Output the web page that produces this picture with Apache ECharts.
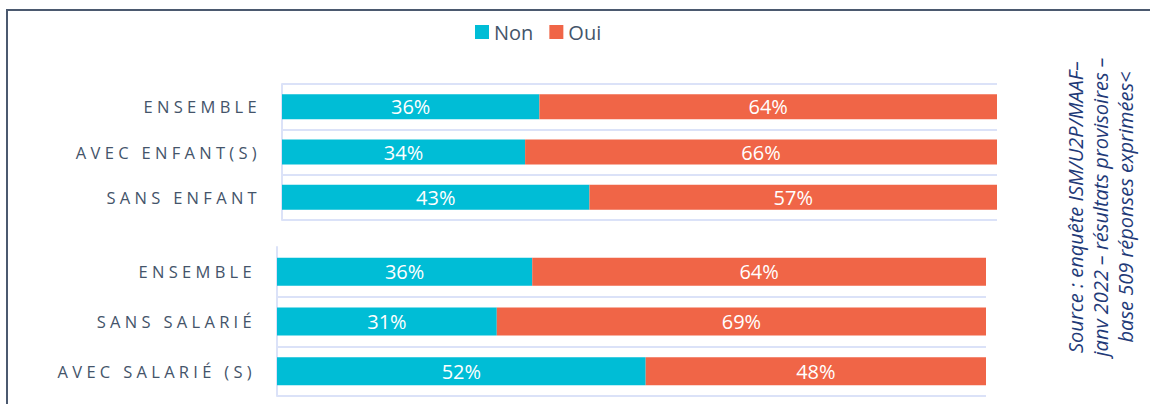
<!DOCTYPE html>
<html lang="fr">
<head>
<meta charset="utf-8">
<title>Non / Oui</title>
<script src="https://cdn.jsdelivr.net/npm/echarts@6/dist/echarts.min.js"></script>
<style>
  html, body { margin: 0; padding: 0; background: #ffffff; }
  #chart { width: 1150px; height: 404px; }
  /* spaced capitals for the category labels */
  #chart text[fill="#44546a"] { letter-spacing: 4.3px; }
</style>
</head>
<body>
<div id="chart"></div>
<script>
// Group 1: family situation
const categoriesFamille = ['ENSEMBLE', 'AVEC ENFANT(S)', 'SANS ENFANT'];
const nonFamille = [36, 34, 43];
const ouiFamille = [64, 66, 57];

// Group 2: employees
const categoriesSalarie = ['ENSEMBLE', 'SANS SALARIÉ', 'AVEC SALARIÉ (S)'];
const nonSalarie = [36, 31, 52];
const ouiSalarie = [64, 69, 48];

const seriesNames = ['Non', 'Oui'];
const sourceLines = [
  'Source : enquête ISM/U2P/MAAF–',
  'janv 2022 – résultats provisoires –',
  'base 509 réponses exprimées<'
];

const COLOR_NON = '#00bdd6';
const COLOR_OUI = '#f06547';
const GRID_LINE = '#dbe2f8';
const FONT = '"Open Sans", sans-serif';

const chart = echarts.init(document.getElementById('chart'), null, { renderer: 'svg' });

function categoryAxis(gridIndex, data, showTop) {
  return {
    type: 'category',
    gridIndex: gridIndex,
    data: data,
    inverse: true,
    axisTick: { show: false },
    axisLine: { show: true, lineStyle: { color: GRID_LINE, width: 2 } },
    splitLine: {
      show: true,
      showMinLine: showTop,
      lineStyle: { color: GRID_LINE, width: 2 }
    },
    axisLabel: {
      margin: 21,
      color: '#44546a',
      fontFamily: FONT,
      fontSize: 16.5
    }
  };
}

function valueAxis(gridIndex) {
  return {
    type: 'value',
    gridIndex: gridIndex,
    min: 0,
    max: 100,
    show: false,
    splitLine: { show: false }
  };
}

function barSeries(name, color, axisIndex, values, barWidth) {
  return {
    name: name,
    type: 'bar',
    stack: 'g' + axisIndex,
    xAxisIndex: axisIndex,
    yAxisIndex: axisIndex,
    data: values,
    barWidth: barWidth,
    itemStyle: { color: color },
    label: {
      show: true,
      position: 'inside',
      formatter: '{c}%',
      color: '#ffffff',
      fontFamily: FONT,
      fontSize: 20
    }
  };
}

chart.setOption({
  animation: false,
  backgroundColor: '#ffffff',
  legend: {
    data: seriesNames,
    left: 470,
    top: 17,
    icon: 'rect',
    itemWidth: 14,
    itemHeight: 14,
    itemGap: 16,
    textStyle: { color: '#44556a', fontFamily: FONT, fontSize: 20 }
  },
  grid: [
    { left: 282, right: 153, top: 84, height: 136 },
    { left: 277, right: 164, top: 247, height: 149 }
  ],
  xAxis: [valueAxis(0), valueAxis(1)],
  yAxis: [
    categoryAxis(0, categoriesFamille, true),
    categoryAxis(1, categoriesSalarie, false)
  ],
  series: [
    barSeries(seriesNames[0], COLOR_NON, 0, nonFamille, 25),
    barSeries(seriesNames[1], COLOR_OUI, 0, ouiFamille, 25),
    barSeries(seriesNames[0], COLOR_NON, 1, nonSalarie, 28),
    barSeries(seriesNames[1], COLOR_OUI, 1, ouiSalarie, 28)
  ],
  graphic: [
    {
      // frame along the top and left edges
      type: 'polyline',
      silent: true,
      shape: { points: [[7, 410], [7, 10], [1160, 10]] },
      style: { stroke: '#4b596f', lineWidth: 2, fill: null }
    },
    {
      type: 'text',
      silent: true,
      x: 1100,
      y: 207,
      rotation: Math.PI / 2,
      style: {
        text: sourceLines.join('\n'),
        fill: '#1f3a78',
        font: 'italic 20px "Open Sans", sans-serif',
        lineHeight: 25,
        align: 'center',
        verticalAlign: 'middle'
      }
    }
  ]
});
</script>
</body>
</html>
